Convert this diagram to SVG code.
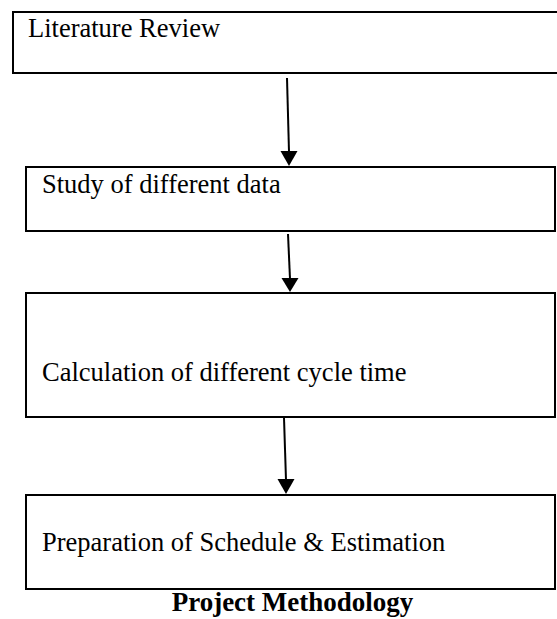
<svg xmlns="http://www.w3.org/2000/svg" width="557" height="619" viewBox="0 0 557 619">
<defs>
<style>
.box{fill:#fff;stroke:#000;stroke-width:2}
.lbl{font-family:"Liberation Serif","Times New Roman",serif;font-size:26.5px;fill:#000}
.title{font-family:"Liberation Serif","Times New Roman",serif;font-size:27px;font-weight:bold;fill:#000}
.conn{stroke:#000;stroke-width:2;fill:none}
.head{fill:#000}
</style>
</defs>
<rect width="557" height="619" fill="#fff"/>
<g id="node-literature">
<rect class="box" x="13" y="12" width="560" height="61"/>
<text class="lbl" x="28" y="37">Literature Review</text>
</g>
<g id="node-study">
<rect class="box" x="26" y="167" width="529" height="64"/>
<text class="lbl" x="42" y="193">Study of different data</text>
</g>
<g id="node-calculation">
<rect class="box" x="26" y="293" width="529" height="124"/>
<text class="lbl" x="42" y="380.5">Calculation of different cycle time</text>
</g>
<g id="node-preparation">
<rect class="box" x="26" y="495" width="529" height="94"/>
<text class="lbl" x="42" y="550.5">Preparation of Schedule &amp; Estimation</text>
</g>
<g id="connectors">
<line class="conn" x1="287" y1="78" x2="289" y2="152"/>
<path class="head" d="M280.5,151 L297.5,151 L289,166 Z"/>
<line class="conn" x1="288" y1="234" x2="290" y2="279"/>
<path class="head" d="M281.5,278 L298.5,278 L290,292 Z"/>
<line class="conn" x1="284" y1="418" x2="286" y2="480"/>
<path class="head" d="M277.5,479 L294.5,479 L286,494 Z"/>
</g>
<text class="title" x="292.5" y="611" text-anchor="middle">Project Methodology</text>
</svg>
